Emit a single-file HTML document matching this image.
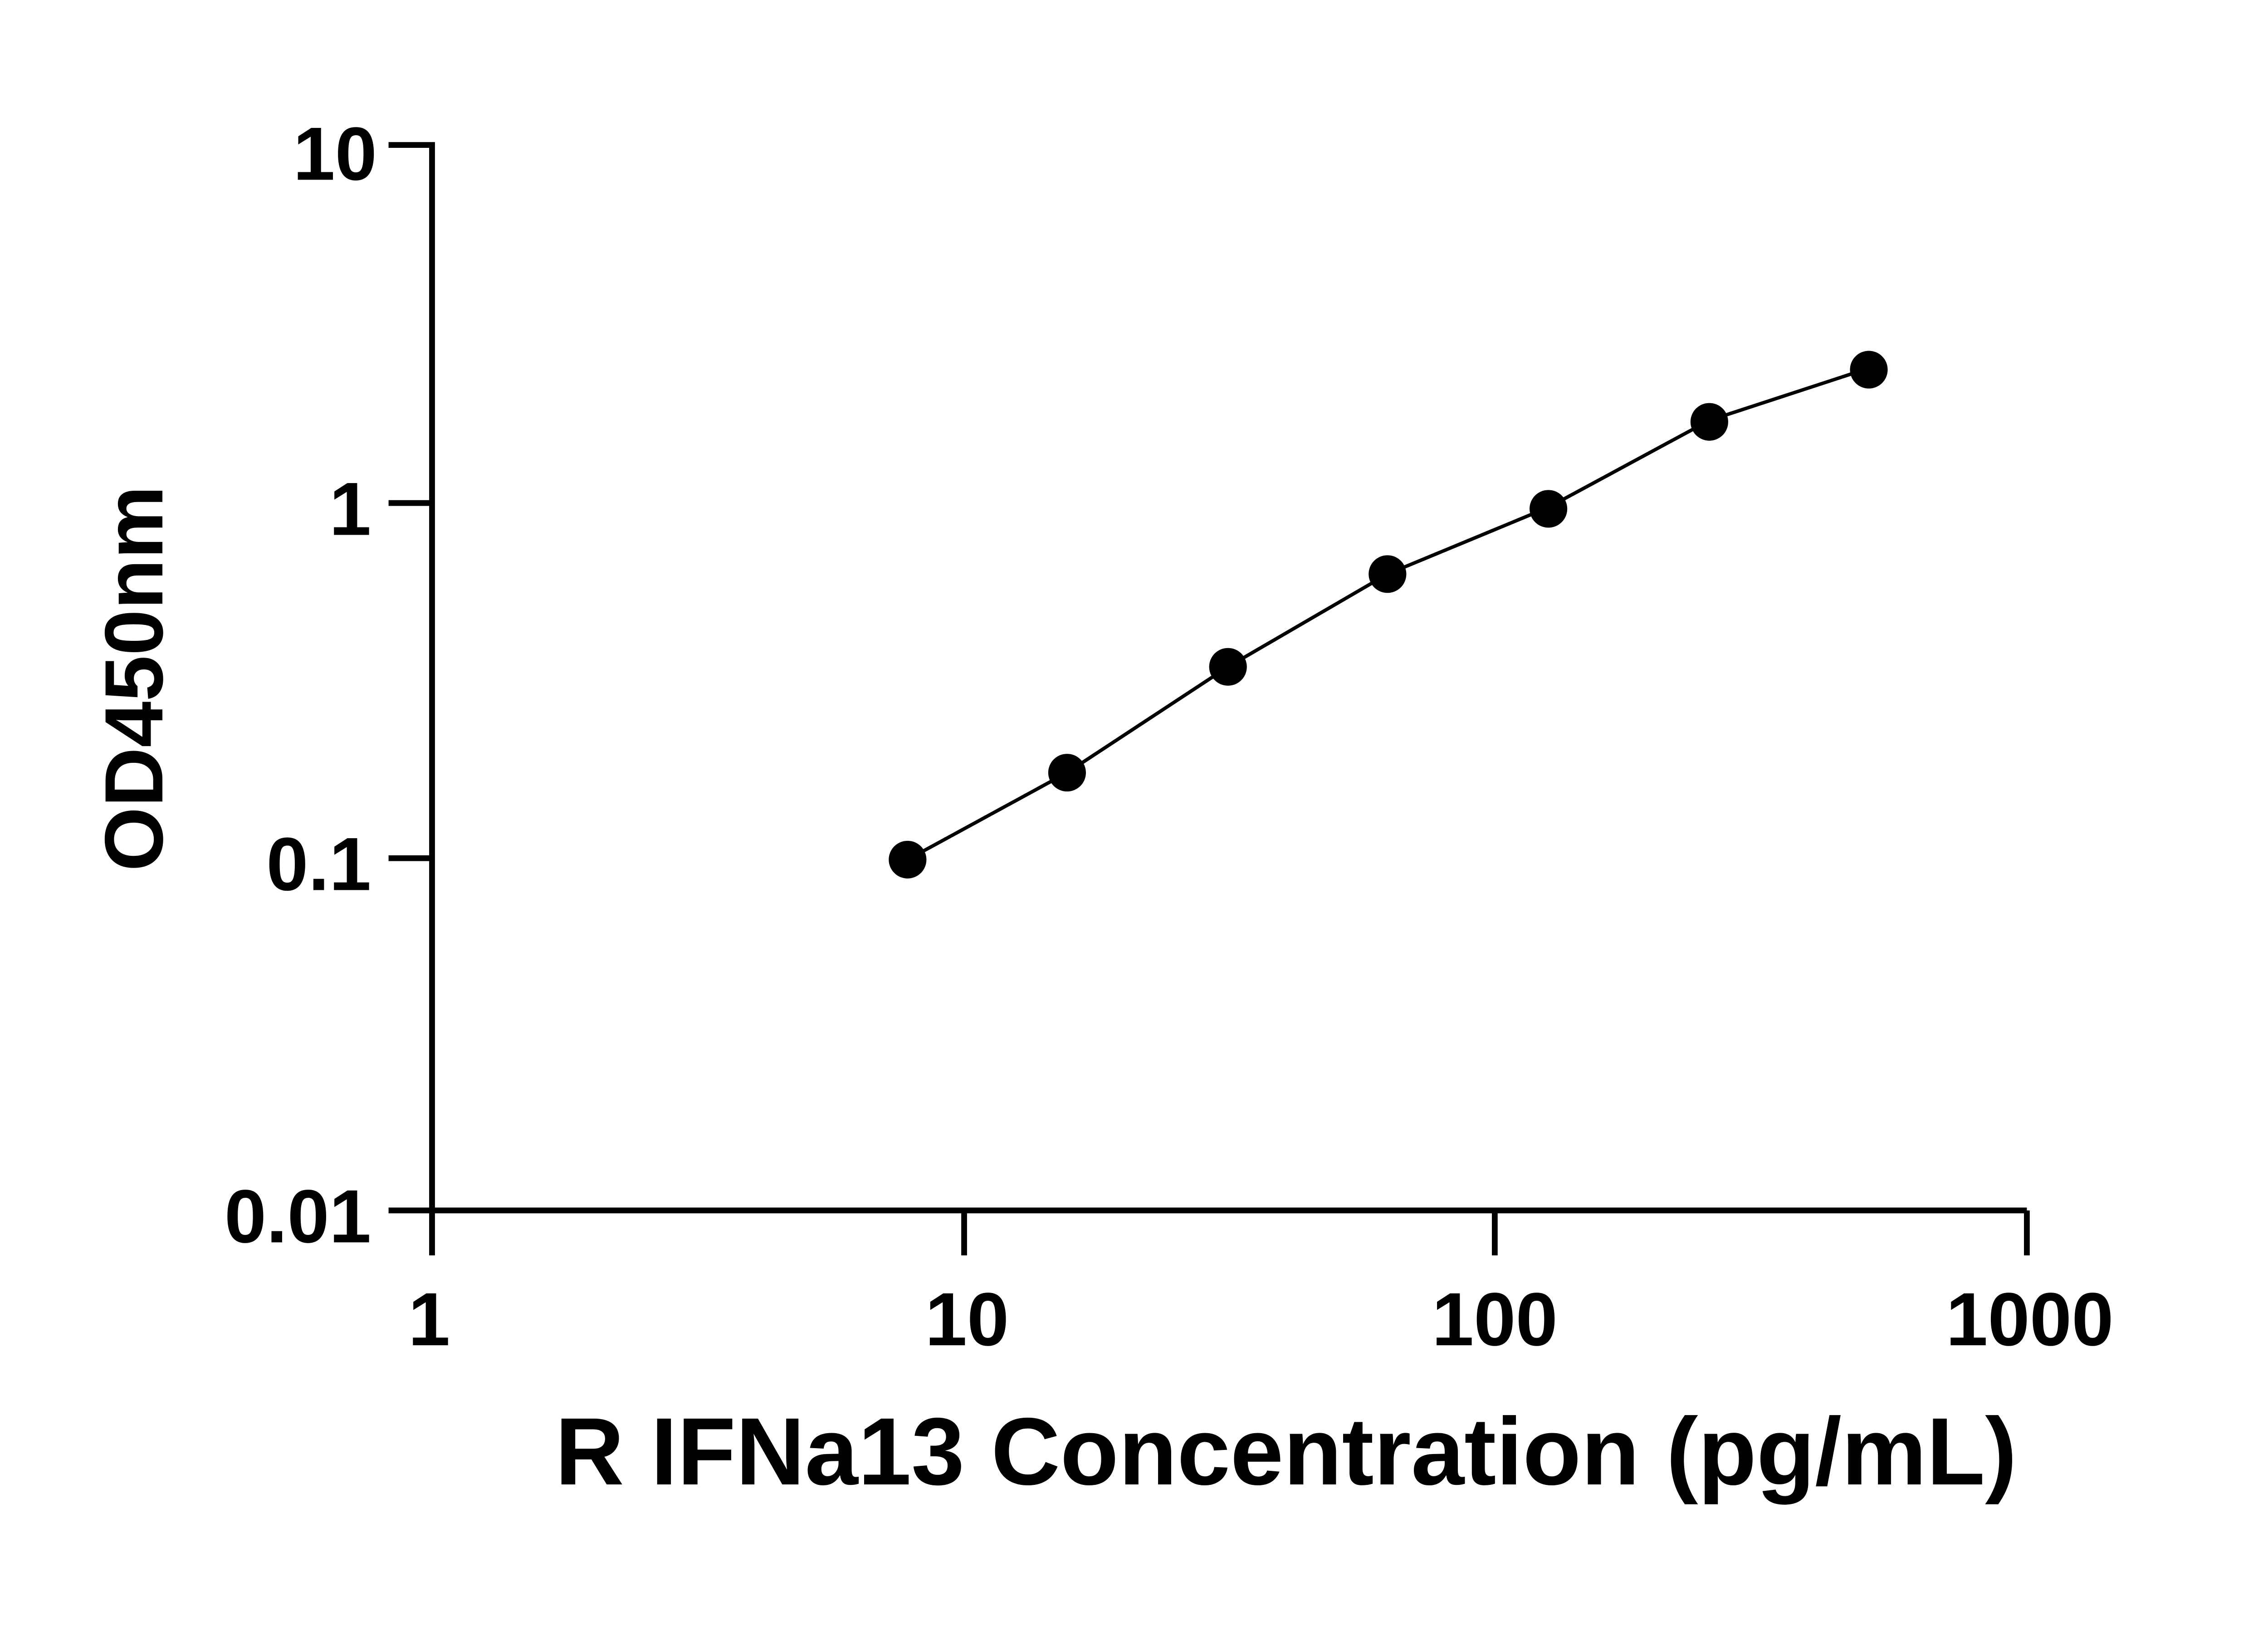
<!DOCTYPE html>
<html><head><style>html,body{margin:0;padding:0;background:#fff}</style></head>
<body>
<svg width="5130" height="3600" viewBox="0 0 1605 1126.3" xmlns="http://www.w3.org/2000/svg" font-family="Liberation Sans, sans-serif" font-weight="bold">
<rect width="1605" height="1127" fill="#fff"/>
<g stroke="#000" stroke-width="4" fill="none">
<polyline points="268,100 298,100 298,866"/>
<line x1="268" y1="347" x2="298" y2="347"/>
<line x1="268" y1="592" x2="298" y2="592"/>
<line x1="268" y1="835" x2="1398" y2="835"/>
<line x1="665" y1="835" x2="665" y2="866"/>
<line x1="1031" y1="835" x2="1031" y2="866"/>
<line x1="1398" y1="835" x2="1398" y2="866"/>
</g>
<path d="M626,593 L736,533 L847,460 L957,396 L1068,350 L1179,290 L1289,254" stroke="#000" stroke-width="2.4" fill="none" stroke-linejoin="round"/>
<g fill="#000">
<circle cx="626" cy="593" r="13"/>
<circle cx="736" cy="533" r="13"/>
<circle cx="847" cy="460" r="13"/>
<circle cx="957" cy="396" r="13"/>
<circle cx="1068" cy="351" r="13"/>
<circle cx="1179" cy="291" r="13"/>
<circle cx="1289" cy="255" r="13"/>
</g>
<g font-size="52" text-anchor="end">
<text x="260" y="124">10</text>
<text x="256" y="369">1</text>
<text x="256" y="614">0.1</text>
<text x="256" y="857">0.01</text>
</g>
<g font-size="52" text-anchor="middle">
<text x="296" y="928">1</text>
<text x="667" y="928">10</text>
<text x="1031" y="928">100</text>
<text x="1400" y="928">1000</text>
</g>
<text x="887" y="1024" font-size="66" text-anchor="middle">R IFNa13 Concentration (pg/mL)</text>
<text transform="translate(112,468) rotate(-90)" font-size="57" text-anchor="middle">OD450nm</text>
</svg>
</body></html>
